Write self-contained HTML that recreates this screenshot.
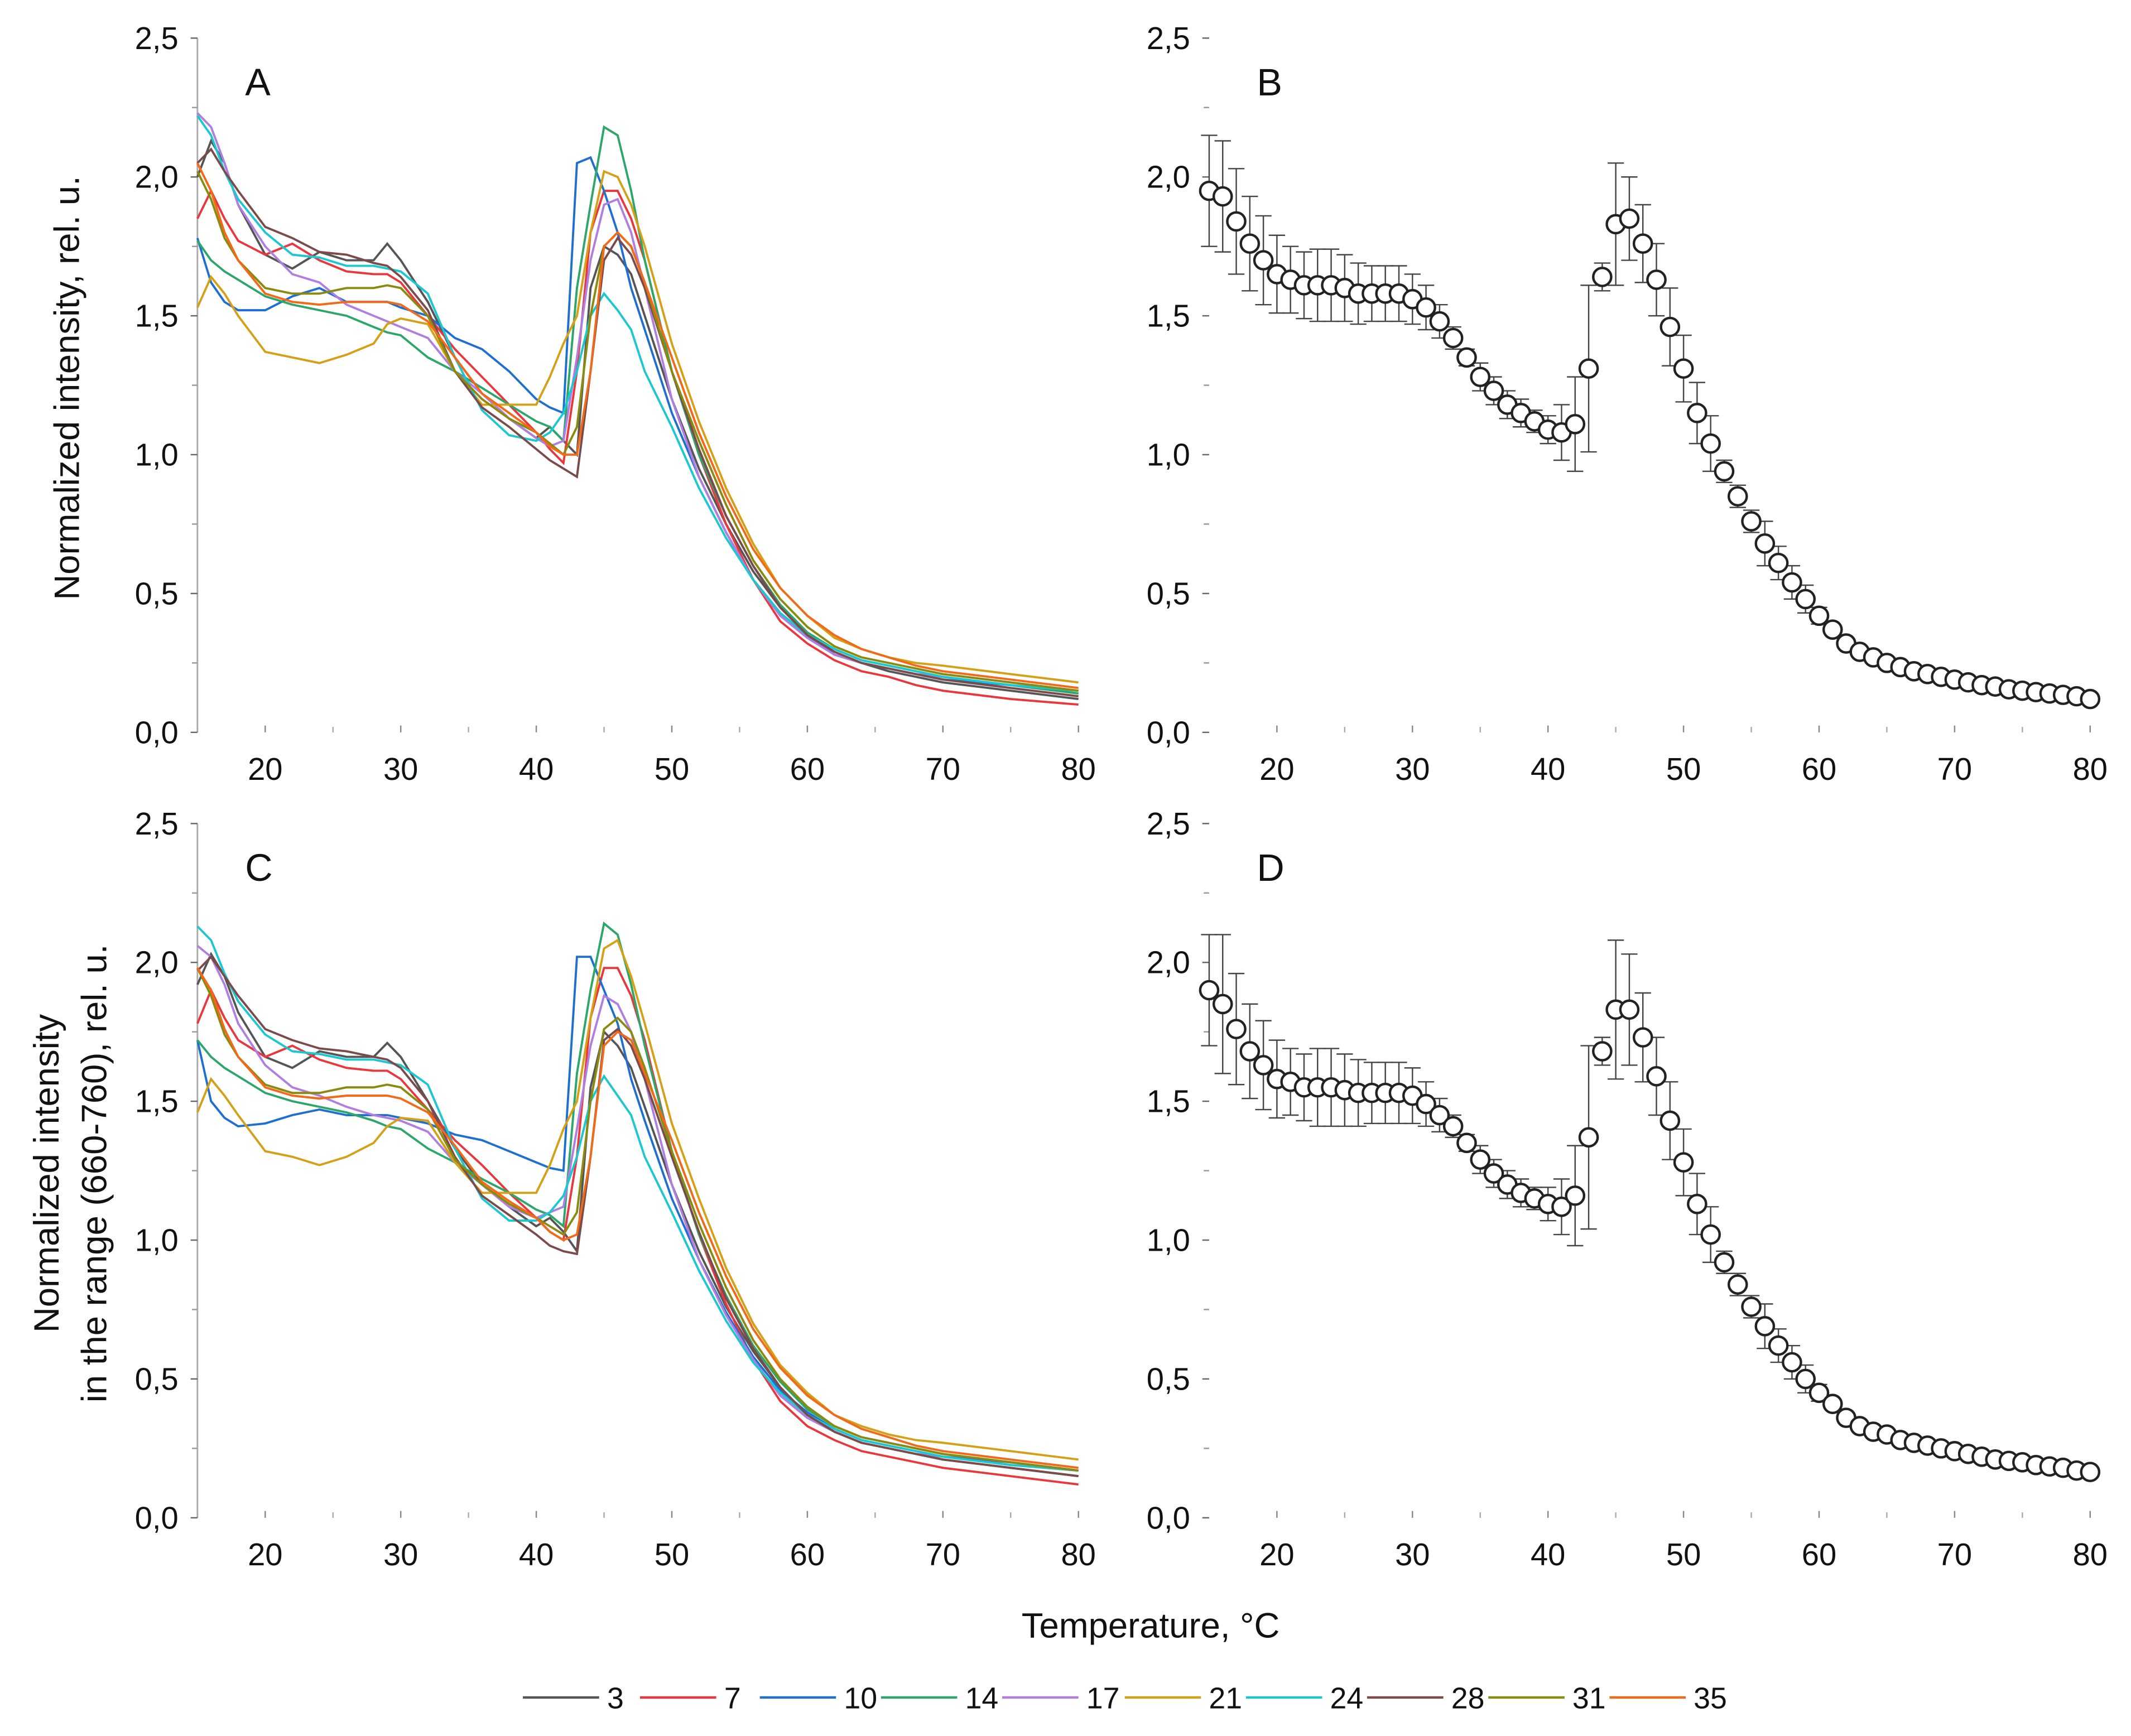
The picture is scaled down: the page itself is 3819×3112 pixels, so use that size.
<!DOCTYPE html>
<html><head><meta charset="utf-8"><style>
html,body{margin:0;padding:0;background:#fff}
svg{display:block}
text{font-family:"Liberation Sans",sans-serif;fill:#111}
</style></head><body>
<svg id="fig" width="3819" height="3112" viewBox="0 0 1565 1275.3" preserveAspectRatio="none" xmlns="http://www.w3.org/2000/svg"></svg>
<script>
const temps=[15,16,17,18,20,22,24,26,28,29,30,32,34,36,38,40,41,42,43,44,45,46,47,48,50,52,54,56,58,60,62,64,66,68,70,75,80];
const seriesNames=["3","7","10","14","17","21","24","28","31","35"];
const seriesColors=["#555555","#e8383d","#1f6fd1","#2ca66a","#b07de0","#d4a017","#1cc7d0","#7b4a4a","#8a8a10","#f06a1a"];
const a3=[2.0,2.13,2.05,1.9,1.72,1.67,1.73,1.70,1.70,1.76,1.70,1.55,1.35,1.22,1.13,1.06,1.1,1.05,1.0,1.6,1.75,1.72,1.65,1.5,1.2,0.95,0.75,0.58,0.45,0.35,0.28,0.25,0.22,0.2,0.18,0.15,0.12];
const a7=[1.85,1.95,1.85,1.77,1.72,1.76,1.70,1.66,1.65,1.65,1.62,1.5,1.38,1.28,1.18,1.08,1.02,0.97,1.3,1.8,1.95,1.95,1.85,1.7,1.3,1.0,0.75,0.55,0.4,0.32,0.26,0.22,0.2,0.17,0.15,0.12,0.1];
const a10=[1.78,1.62,1.55,1.52,1.52,1.57,1.60,1.55,1.55,1.55,1.53,1.5,1.42,1.38,1.3,1.2,1.17,1.15,2.05,2.07,1.95,1.8,1.6,1.45,1.15,0.92,0.72,0.55,0.43,0.35,0.28,0.25,0.23,0.21,0.19,0.17,0.14];
const a14=[1.77,1.7,1.66,1.63,1.57,1.54,1.52,1.50,1.46,1.44,1.43,1.35,1.3,1.24,1.18,1.12,1.1,1.05,1.6,1.9,2.18,2.15,1.95,1.7,1.3,1.0,0.78,0.6,0.46,0.36,0.3,0.26,0.24,0.22,0.2,0.17,0.14];
const a17=[2.23,2.18,2.05,1.9,1.75,1.65,1.62,1.54,1.5,1.48,1.46,1.42,1.3,1.22,1.13,1.06,1.03,1.05,1.35,1.7,1.9,1.92,1.8,1.6,1.2,0.92,0.72,0.55,0.42,0.34,0.28,0.25,0.23,0.21,0.2,0.17,0.15];
const a21=[1.53,1.64,1.58,1.5,1.37,1.35,1.33,1.36,1.40,1.47,1.49,1.47,1.3,1.18,1.18,1.18,1.28,1.4,1.5,1.8,2.02,2.0,1.9,1.75,1.4,1.12,0.88,0.68,0.52,0.42,0.34,0.3,0.27,0.25,0.24,0.21,0.18];
const a24=[2.22,2.15,2.02,1.92,1.8,1.72,1.71,1.68,1.68,1.67,1.66,1.58,1.35,1.16,1.07,1.05,1.08,1.15,1.3,1.5,1.58,1.52,1.45,1.3,1.1,0.88,0.7,0.55,0.43,0.35,0.3,0.26,0.24,0.22,0.2,0.17,0.15];
const a28=[2.05,2.1,2.02,1.95,1.82,1.78,1.73,1.72,1.69,1.68,1.64,1.52,1.3,1.17,1.1,1.02,0.98,0.95,0.92,1.3,1.7,1.78,1.72,1.6,1.3,1.02,0.78,0.6,0.45,0.35,0.29,0.25,0.23,0.21,0.19,0.16,0.13];
const a31=[2.02,1.92,1.78,1.7,1.6,1.58,1.58,1.6,1.60,1.61,1.6,1.5,1.3,1.2,1.13,1.08,1.04,1.0,1.1,1.5,1.75,1.8,1.75,1.62,1.3,1.05,0.82,0.62,0.48,0.38,0.31,0.27,0.25,0.23,0.21,0.18,0.15];
const a35=[2.05,1.95,1.8,1.7,1.58,1.55,1.54,1.55,1.55,1.55,1.54,1.48,1.35,1.22,1.15,1.08,1.03,1.0,1.0,1.3,1.75,1.8,1.75,1.62,1.35,1.08,0.85,0.66,0.52,0.42,0.35,0.3,0.27,0.24,0.22,0.19,0.16];
const c3=[1.92,2.03,1.95,1.82,1.66,1.62,1.68,1.66,1.66,1.71,1.66,1.5,1.33,1.2,1.12,1.05,1.08,1.03,0.96,1.55,1.75,1.7,1.62,1.48,1.2,0.96,0.76,0.6,0.47,0.37,0.31,0.27,0.25,0.23,0.21,0.18,0.15];
const c7=[1.78,1.9,1.8,1.72,1.66,1.7,1.65,1.62,1.61,1.61,1.58,1.47,1.36,1.27,1.17,1.08,1.03,1.0,1.3,1.8,1.98,1.98,1.88,1.72,1.32,1.02,0.77,0.57,0.42,0.33,0.28,0.24,0.22,0.2,0.18,0.15,0.12];
const c10=[1.72,1.5,1.44,1.41,1.42,1.45,1.47,1.45,1.45,1.45,1.44,1.42,1.38,1.36,1.32,1.28,1.26,1.25,2.02,2.02,1.9,1.78,1.58,1.43,1.15,0.93,0.74,0.58,0.46,0.38,0.32,0.28,0.26,0.24,0.22,0.2,0.17];
const c14=[1.72,1.66,1.62,1.59,1.53,1.5,1.48,1.46,1.43,1.41,1.4,1.33,1.28,1.22,1.17,1.11,1.09,1.05,1.6,1.9,2.14,2.1,1.92,1.7,1.32,1.02,0.8,0.62,0.49,0.39,0.33,0.29,0.27,0.25,0.23,0.2,0.17];
const c17=[2.06,2.02,1.92,1.78,1.63,1.55,1.52,1.48,1.45,1.44,1.43,1.39,1.28,1.2,1.12,1.08,1.1,1.12,1.4,1.7,1.88,1.85,1.75,1.58,1.2,0.93,0.73,0.57,0.44,0.36,0.31,0.27,0.25,0.23,0.22,0.19,0.17];
const c21=[1.46,1.58,1.52,1.45,1.32,1.3,1.27,1.3,1.35,1.41,1.44,1.43,1.28,1.17,1.17,1.17,1.27,1.4,1.5,1.8,2.05,2.08,1.95,1.78,1.42,1.15,0.9,0.7,0.55,0.45,0.37,0.33,0.3,0.28,0.27,0.24,0.21];
const c24=[2.13,2.08,1.96,1.86,1.74,1.68,1.67,1.65,1.65,1.64,1.63,1.56,1.33,1.15,1.07,1.07,1.1,1.16,1.3,1.5,1.59,1.52,1.45,1.3,1.1,0.89,0.71,0.56,0.45,0.37,0.32,0.28,0.26,0.24,0.22,0.19,0.17];
const c28=[1.97,2.02,1.95,1.88,1.76,1.72,1.69,1.68,1.66,1.65,1.62,1.5,1.3,1.16,1.09,1.02,0.98,0.96,0.95,1.3,1.72,1.76,1.7,1.58,1.3,1.03,0.79,0.61,0.47,0.37,0.31,0.27,0.25,0.23,0.21,0.18,0.15];
const c31=[1.98,1.88,1.74,1.66,1.56,1.53,1.53,1.55,1.55,1.56,1.55,1.47,1.29,1.2,1.13,1.08,1.05,1.02,1.1,1.5,1.76,1.8,1.75,1.62,1.32,1.06,0.83,0.64,0.5,0.4,0.33,0.29,0.27,0.25,0.23,0.2,0.17];
const c35=[1.98,1.9,1.76,1.66,1.55,1.52,1.51,1.52,1.52,1.52,1.51,1.46,1.34,1.21,1.14,1.08,1.03,1.0,1.02,1.3,1.7,1.75,1.72,1.6,1.36,1.1,0.87,0.68,0.54,0.44,0.37,0.32,0.29,0.26,0.24,0.21,0.18];
const seriesA=[a3,a7,a10,a14,a17,a21,a24,a28,a31,a35];
const seriesC=[c3,c7,c10,c14,c17,c21,c24,c28,c31,c35];
const meanTemps=[15,16,17,18,19,20,21,22,23,24,25,26,27,28,29,30,31,32,33,34,35,36,37,38,39,40,41,42,43,44,45,46,47,48,49,50,51,52,53,54,55,56,57,58,59,60,61,62,63,64,65,66,67,68,69,70,71,72,73,74,75,76,77,78,79,80];
const meanB=[1.95,1.93,1.84,1.76,1.70,1.65,1.63,1.61,1.61,1.61,1.60,1.58,1.58,1.58,1.58,1.56,1.53,1.48,1.42,1.35,1.28,1.23,1.18,1.15,1.12,1.09,1.08,1.11,1.31,1.64,1.83,1.85,1.76,1.63,1.46,1.31,1.15,1.04,0.94,0.85,0.76,0.68,0.61,0.54,0.48,0.42,0.37,0.32,0.29,0.27,0.25,0.235,0.22,0.21,0.20,0.19,0.18,0.17,0.165,0.155,0.15,0.145,0.14,0.135,0.13,0.12];
const errB=[0.2,0.2,0.19,0.17,0.16,0.14,0.12,0.12,0.13,0.13,0.12,0.11,0.1,0.1,0.1,0.09,0.08,0.06,0.04,0.03,0.05,0.05,0.05,0.05,0.04,0.05,0.1,0.17,0.3,0.05,0.22,0.15,0.14,0.13,0.14,0.12,0.11,0.1,0.04,0.04,0.04,0.08,0.06,0.06,0.05,0.03,0.02,0.01,0.01,0.01,0.01,0.01,0.01,0.01,0.01,0.01,0.01,0.01,0.01,0.01,0.01,0.01,0.01,0.01,0.01,0.01];
const meanD=[1.9,1.85,1.76,1.68,1.63,1.58,1.57,1.55,1.55,1.55,1.54,1.53,1.53,1.53,1.53,1.52,1.49,1.45,1.41,1.35,1.29,1.24,1.2,1.17,1.15,1.13,1.12,1.16,1.37,1.68,1.83,1.83,1.73,1.59,1.43,1.28,1.13,1.02,0.92,0.84,0.76,0.69,0.62,0.56,0.5,0.45,0.41,0.36,0.33,0.31,0.3,0.28,0.27,0.26,0.25,0.24,0.23,0.22,0.21,0.205,0.2,0.19,0.185,0.18,0.17,0.165];
const errD=[0.2,0.25,0.2,0.17,0.16,0.14,0.12,0.12,0.14,0.14,0.13,0.12,0.11,0.11,0.11,0.1,0.08,0.06,0.04,0.03,0.05,0.05,0.05,0.05,0.04,0.06,0.1,0.18,0.33,0.05,0.25,0.2,0.16,0.14,0.14,0.12,0.11,0.1,0.04,0.04,0.04,0.08,0.06,0.06,0.05,0.03,0.02,0.01,0.01,0.01,0.01,0.01,0.01,0.01,0.01,0.01,0.01,0.01,0.01,0.01,0.01,0.01,0.01,0.01,0.01,0.01];
const yTicks=["0,0","0,5","1,0","1,5","2,0","2,5"];
const xTicks=[20,30,40,50,60,70,80];

const svg=document.getElementById('fig');
const NS="http://www.w3.org/2000/svg";
function mk(tag,attrs,parent){const e=document.createElementNS(NS,tag);for(const k in attrs)e.setAttribute(k,attrs[k]);(parent||svg).appendChild(e);return e;}
function panel(name,x0,y0,drawAxisLine){
  const sx=t=>x0+(t-15)*(647/65);
  const sy=v=>y0-v*204;
  const g=mk('g',{});
  
  
  if(drawAxisLine){const l=mk('line',{x1:x0,y1:y0-510,x2:x0,y2:y0,stroke:'#aaa','stroke-width':1.2},g);
    }
  yTicks.forEach((lab,i)=>{
    const y=sy(i*0.5);
    const t=mk('text',{x:x0-14,y:y+8,'text-anchor':'end','font-size':23},g);t.textContent=lab;
    
    mk('line',{x1:x0-5,y1:y,x2:x0,y2:y,stroke:'#666','stroke-width':1},g);
    if(i<5)mk('line',{x1:x0-4,y1:y-51,x2:x0,y2:y-51,stroke:'#999','stroke-width':1},g);
  });
  xTicks.forEach(v=>{
    const x=sx(v);
    const t=mk('text',{x:x,y:y0+35,'text-anchor':'middle','font-size':23},g);t.textContent=v;
    
    mk('line',{x1:x,y1:y0-5,x2:x,y2:y0,stroke:'#888','stroke-width':1},g);
    if(v<80)mk('line',{x1:sx(v+5),y1:y0-4,x2:sx(v+5),y2:y0,stroke:'#aaa','stroke-width':1},g);
  });
  const L=mk('text',{x:x0+35,y:y0-468,'font-size':28},g);L.textContent=name;
  
  return {sx,sy,g};
}
function lines(p,series){
  series.forEach((vals,i)=>{
    const d=vals.map((v,j)=>(j?'L':'M')+p.sx(temps[j]).toFixed(1)+','+p.sy(v).toFixed(1)).join(' ');
    const path=mk('path',{d:d,fill:'none',stroke:seriesColors[i],'stroke-width':1.6},p.g);
    
    
  });
}
function dots(p,mean,err){
  mean.forEach((v,j)=>{
    const x=p.sx(meanTemps[j]);const e=err[j];
    if(e>0.015){
      const b=mk('path',{d:`M${x},${p.sy(v+e)}L${x},${p.sy(v-e)}M${x-6},${p.sy(v+e)}L${x+6},${p.sy(v+e)}M${x-6},${p.sy(v-e)}L${x+6},${p.sy(v-e)}`,stroke:'#444','stroke-width':1,fill:'none'},p.g);
      
    }
  });
  mean.forEach((v,j)=>{
    const c=mk('circle',{cx:p.sx(meanTemps[j]),cy:p.sy(v),r:6.6,fill:'#fff',stroke:'#222','stroke-width':1.8},p.g);
    
  });
}
const pA=panel('A',145,538,true);lines(pA,seriesA);
const pB=panel('B',888,538,false);dots(pB,meanB,errB);
const pC=panel('C',145,1115,true);lines(pC,seriesC);
const pD=panel('D',888,1115,false);dots(pD,meanD,errD);

let t=mk('text',{transform:'translate(58,285) rotate(-90)','text-anchor':'middle','font-size':26});t.textContent='Normalized intensity, rel. u.';

t=mk('text',{transform:'translate(43,862) rotate(-90)','text-anchor':'middle','font-size':26});t.textContent='Normalized intensity';

t=mk('text',{transform:'translate(78,862) rotate(-90)','text-anchor':'middle','font-size':26});t.textContent='in the range (660-760), rel. u.';

t=mk('text',{x:845,y:1203,'text-anchor':'middle','font-size':26});t.textContent='Temperature, °C';


const legendX=[452,538,632,721,810,900,989,1078,1167,1256];
seriesNames.forEach((n,i)=>{
  const g=mk('g',{});
  
  
  const w=n.length>1?12:6;
  mk('line',{x1:legendX[i]-w-62,y1:1247,x2:legendX[i]-w-6,y2:1247,stroke:seriesColors[i],'stroke-width':1.8},g);
  const tx=mk('text',{x:legendX[i],y:1255,'text-anchor':'middle','font-size':22},g);tx.textContent=n;
});
</script>
</body></html>
